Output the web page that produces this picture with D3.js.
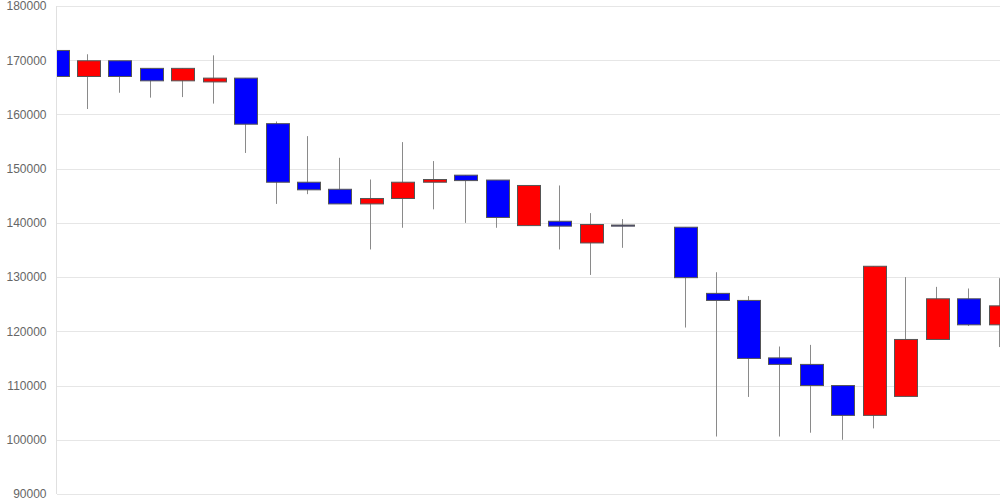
<!DOCTYPE html>
<html>
<head>
<meta charset="utf-8">
<script src="https://cdn.jsdelivr.net/npm/d3@7"></script>
<style>
  html, body { margin: 0; padding: 0; background: #fff; }
  svg { display: block; }
</style>
</head>
<body>
<svg id="chart" width="1000" height="500"></svg>
<script>
// Data (index-based periods; period 19 has no data)
const categories = d3.range(31).map(i => String(i + 1));
const openVals  = [171800,167000,169900,168500,166200,166000,166700,158300,147500,146200,143500,144500,147500,148800,147900,139500,140300,136300,139600,null,139200,127000,125700,115100,113900,110000,104500,108000,118500,126000,121200];
const closeVals = [167000,169900,167000,166200,168500,166700,158200,147500,146100,143500,144500,147500,148000,147800,141000,146900,139400,139700,139400,null,129900,125700,115000,113900,110000,104500,132000,118500,126000,121200,124700];
const highVals  = [174500,171100,169900,168500,168500,170900,166700,158700,156000,152000,148000,154900,151400,148800,147900,146900,146900,141800,140700,null,139200,130900,126500,117200,117500,110000,132000,130000,128200,127900,129800];
const lowVals   = [167000,161000,164000,163100,163200,162000,152900,143500,145300,143500,135100,139100,142500,140000,139100,139500,135100,130400,135400,null,120700,100600,107900,100600,101300,100000,102100,108000,118500,121000,117100];
const yTicks = [90000,100000,110000,120000,130000,140000,150000,160000,170000,180000];

const W = 1000, H = 500;
const m = { left: 57, right: 0, top: 6, bottom: 6 };
const svg = d3.select("#chart");

const x = d3.scalePoint().domain(categories).range([m.left, W - m.right]).padding(0);
const y = d3.scaleLinear().domain([90000, 180000]).range([H - m.bottom, m.top]);

// grid
svg.append("g")
  .selectAll("line").data(yTicks).join("line")
  .attr("x1", m.left).attr("x2", W)
  .attr("y1", d => Math.round(y(d)) + 0.5).attr("y2", d => Math.round(y(d)) + 0.5)
  .attr("stroke", "#e6e6e6").attr("stroke-width", 1);

// y axis
const yAxis = svg.append("g")
  .attr("transform", `translate(${m.left - 0.5},0)`)
  .call(d3.axisLeft(y).tickValues(yTicks).tickSize(0).tickPadding(10).tickFormat(d3.format("d")));
yAxis.select(".domain").attr("stroke", "#e0e0e0").attr("d", `M0,${m.top}V${H - m.bottom}`);
yAxis.selectAll("text")
  .attr("fill", "#666").style("font-family", "'Liberation Sans', Arial, sans-serif").style("font-size", "12px");

// clip
svg.append("clipPath").attr("id", "plot")
  .append("rect").attr("x", m.left).attr("y", 0).attr("width", W - m.left).attr("height", H);

const data = categories.map((c, i) => ({ c, o: openVals[i], cl: closeVals[i], h: highVals[i], l: lowVals[i] }))
  .filter(d => d.o != null);

const bw = 23;
const g = svg.append("g").attr("clip-path", "url(#plot)");

g.selectAll("line.wick").data(data).join("line")
  .attr("class", "wick")
  .attr("x1", d => Math.round(x(d.c)) - 0.5).attr("x2", d => Math.round(x(d.c)) - 0.5)
  .attr("y1", d => y(d.h)).attr("y2", d => y(d.l))
  .attr("stroke", "#8a8a8a").attr("stroke-width", 1);

g.selectAll("rect.body").data(data).join("rect")
  .attr("class", "body")
  .attr("x", d => Math.round(x(d.c) - bw / 2) + 0.5)
  .attr("y", d => y(Math.max(d.o, d.cl)))
  .attr("width", bw)
  .attr("height", d => Math.max(1, y(Math.min(d.o, d.cl)) - y(Math.max(d.o, d.cl))))
  .attr("fill", d => d.cl >= d.o ? "#ff0000" : "#0000ff")
  .attr("stroke", "#555")
  .attr("stroke-width", 1);
</script>
</body>
</html>
